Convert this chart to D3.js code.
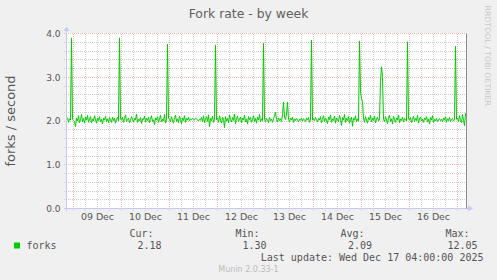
<!DOCTYPE html>
<html>
<head>
<meta charset="utf-8">
<script src="https://cdn.jsdelivr.net/npm/d3@7"></script>
<style>
  html, body { margin: 0; padding: 0; background: #f0f0f0; }
  svg { display: block; }
</style>
</head>
<body>
<script>
// Munin "Fork rate - by week" graph
const W = 497, H = 280;
const P = { left: 67, right: 466, top: 33.5, bottom: 208.5 };

// half-hourly samples, one array per day (first and last day are partial)
const dec08 = [2.08, 1.97, 2.05, 2.02, 3.90, 2.04];
const dec09 = [2.01, 1.99, 1.87, 2.07, 2.00, 2.12, 1.96, 2.03, 2.15, 1.98,
  2.06, 1.95, 2.09, 2.02, 2.13, 1.97, 2.04, 2.10, 1.96, 2.05,
  2.00, 2.12, 2.03, 1.95, 2.07, 2.01, 2.10, 1.98, 2.04, 1.93,
  2.06, 2.02, 2.11, 1.99, 2.05, 1.96, 2.08, 2.03, 1.97, 2.09,
  2.01, 2.06, 1.95, 2.04, 2.08, 2.00, 3.90, 2.05];
const dec10 = [2.02, 2.09, 1.97, 2.05, 2.14, 1.99, 2.03, 2.07, 1.96, 2.01,
  2.10, 2.04, 1.98, 2.06, 2.02, 2.16, 1.97, 2.04, 2.00, 2.08,
  1.94, 2.05, 2.03, 2.11, 1.98, 2.06, 2.01, 2.09, 1.96, 2.04,
  2.12, 1.99, 2.03, 1.92, 2.07, 2.02, 2.10, 1.97, 2.05, 2.13,
  1.98, 2.04, 2.00, 2.15, 1.95, 2.03, 3.76, 2.06];
const dec11 = [2.04, 1.98, 2.10, 2.02, 1.95, 2.08, 2.13, 1.99, 2.05, 1.96,
  2.11, 2.03, 1.94, 2.07, 2.01, 2.12, 1.97, 2.06, 2.02, 2.09,
  2.00, 2.05, 2.03, 2.06, 2.04, 2.02, 2.07, 2.05, 2.03, 2.00,
  2.04, 2.02, 2.08, 1.98, 2.12, 1.96, 2.05, 2.10, 1.99, 2.14,
  1.87, 2.06, 2.01, 2.11, 1.97, 2.04, 3.74, 2.03];
const dec12 = [2.07, 1.97, 2.12, 2.02, 1.95, 2.09, 2.04, 1.85, 2.10, 2.00,
  2.06, 1.96, 2.14, 2.03, 1.98, 2.08, 2.01, 2.16, 1.94, 2.05,
  2.11, 1.99, 2.04, 2.09, 1.96, 2.07, 2.02, 2.13, 1.98, 2.05,
  1.93, 2.10, 2.03, 2.08, 1.97, 2.04, 2.12, 1.99, 2.06, 1.95,
  2.09, 2.02, 2.15, 1.98, 2.05, 2.01, 3.78, 2.04];
const dec13 = [1.99, 2.06, 2.02, 1.96, 2.08, 2.01, 2.04, 1.97, 2.05, 2.12,
  2.20, 2.03, 1.98, 2.07, 2.01, 2.05, 1.99, 2.14, 2.43, 2.08,
  2.03, 2.16, 2.43, 2.04, 1.99, 2.07, 2.02, 2.09, 1.97, 2.05,
  2.01, 2.06, 2.03, 1.98, 2.04, 2.02, 2.07, 2.00, 2.05, 2.03,
  1.99, 2.06, 2.02, 2.08, 1.97, 2.04, 3.85, 2.02];
const dec14 = [2.05, 2.01, 2.08, 2.03, 1.98, 2.06, 2.02, 2.10, 1.96, 2.04,
  2.12, 1.99, 2.07, 2.02, 1.94, 2.09, 2.03, 2.14, 1.97, 2.05,
  2.01, 2.11, 1.95, 2.07, 2.03, 1.99, 2.13, 2.04, 1.90, 2.08,
  2.02, 2.15, 1.97, 2.06, 2.01, 2.10, 1.95, 2.04, 2.09, 1.88,
  2.07, 2.02, 2.12, 1.98, 2.05, 2.00, 3.83, 2.67];
const dec15 = [2.52, 2.45, 2.05, 1.97, 2.10, 2.02, 1.95, 2.08, 2.03, 2.13,
  1.98, 2.06, 2.01, 2.11, 1.96, 2.04, 2.09, 2.00, 2.05, 2.90,
  3.24, 3.00, 2.04, 1.98, 2.10, 2.02, 1.94, 2.08, 2.13, 1.99,
  2.05, 1.93, 2.11, 2.03, 1.97, 2.07, 2.02, 2.14, 1.96, 2.05,
  2.01, 2.09, 1.98, 2.06, 2.03, 2.00, 3.81, 2.05];
const dec16 = [2.02, 2.08, 1.96, 2.04, 2.11, 1.99, 2.06, 2.01, 2.13, 1.95,
  2.05, 2.09, 2.00, 2.04, 1.97, 2.07, 2.03, 2.10, 1.98, 2.05,
  1.93, 2.08, 2.02, 2.12, 1.97, 2.04, 2.00, 2.06, 1.99, 2.03,
  2.05, 2.01, 2.04, 1.98, 2.07, 2.02, 2.10, 1.97, 2.05, 2.01,
  2.08, 1.99, 2.04, 2.06, 2.00, 2.03, 3.71, 2.04];
const dec17 = [2.06, 1.99, 2.12, 2.03, 1.96, 2.15, 2.02, 1.89, 2.18];

const dayStarts = [
  Date.UTC(2025, 11, 8, 21), Date.UTC(2025, 11, 9), Date.UTC(2025, 11, 10),
  Date.UTC(2025, 11, 11), Date.UTC(2025, 11, 12), Date.UTC(2025, 11, 13),
  Date.UTC(2025, 11, 14), Date.UTC(2025, 11, 15), Date.UTC(2025, 11, 16),
  Date.UTC(2025, 11, 17)
];
const dayValues = [dec08, dec09, dec10, dec11, dec12, dec13, dec14, dec15, dec16, dec17];

const yMajor = [0, 1, 2, 3, 4];
const statLabels = ['Cur:', 'Min:', 'Avg:', 'Max:'];
const statValues = ['2.18', '1.30', '2.09', '12.05'];
const statLabelEnd = [153.5, 259.5, 364.5, 469.5];
const statValueEnd = [161.5, 266.5, 372, 477.5];

const HALF_HOUR = 30 * 60 * 1000;
const points = dayValues.flatMap((vals, k) =>
  vals.map((v, j) => ({ t: new Date(dayStarts[k] + j * HALF_HOUR), v })));

const svg = d3.select('body').append('svg').attr('width', W).attr('height', H);
svg.append('rect').attr('width', W).attr('height', H).attr('fill', '#f0f0f0');

const x = d3.scaleUtc()
  .domain([new Date(Date.UTC(2025, 11, 8, 20, 45)), new Date(Date.UTC(2025, 11, 17, 4, 15))])
  .range([P.left, P.right]);
const y = d3.scaleLinear().domain([0, 4]).range([P.bottom, P.top]);
const crisp = v => Math.round(v - 0.5) + 0.5;

// plot canvas
svg.append('rect')
  .attr('x', P.left).attr('y', P.top - 0.5)
  .attr('width', P.right - P.left).attr('height', P.bottom - P.top + 0.5)
  .attr('fill', '#ffffff');

const grid = svg.append('g').attr('shape-rendering', 'crispEdges');
const minorY = d3.range(1, 20).map(k => k / 5).filter(v => !Number.isInteger(v));
const hours = d3.utcHour.every(6).range(x.domain()[0], x.domain()[1]);
const minorX = hours.filter(d => d.getUTCHours() !== 0);
const majorX = d3.utcDay.range(x.domain()[0], x.domain()[1]);
const majorCol = '#f0b6b6', minorCol = '#cccccc';

grid.selectAll('line.minx').data(minorX).join('line')
  .attr('x1', d => crisp(x(d))).attr('x2', d => crisp(x(d)))
  .attr('y1', P.top).attr('y2', P.bottom + 2)
  .attr('stroke', minorCol).attr('stroke-dasharray', '1,1');
grid.selectAll('line.miny').data(minorY).join('line')
  .attr('x1', P.left - 3).attr('x2', P.right)
  .attr('y1', d => crisp(y(d))).attr('y2', d => crisp(y(d)))
  .attr('stroke', minorCol).attr('stroke-dasharray', '1,1');
grid.selectAll('line.majx').data(majorX).join('line')
  .attr('x1', d => crisp(x(d))).attr('x2', d => crisp(x(d)))
  .attr('y1', P.top).attr('y2', P.bottom + 3)
  .attr('stroke', majorCol).attr('stroke-dasharray', '1,1');
grid.selectAll('line.majy').data(yMajor.filter(v => v > 0)).join('line')
  .attr('x1', P.left - 3).attr('x2', P.right)
  .attr('y1', d => crisp(y(d))).attr('y2', d => crisp(y(d)))
  .attr('stroke', majorCol).attr('stroke-dasharray', '1,1');

// axes with arrows
const axisCol = '#c4c8f2';
svg.append('line').attr('x1', P.left - 0.5).attr('x2', P.left - 0.5)
  .attr('y1', P.bottom + 3).attr('y2', 29).attr('stroke', axisCol);
svg.append('path').attr('d', `M${P.left - 3.5},31 L${P.left + 2.5},31 L${P.left - 0.5},26.5 Z`)
  .attr('fill', axisCol);
svg.append('line').attr('x1', P.left - 3).attr('x2', P.right + 4)
  .attr('y1', P.bottom).attr('y2', P.bottom).attr('stroke', axisCol);
svg.append('path').attr('d', `M${P.right + 2},${P.bottom - 3} L${P.right + 2},${P.bottom + 3} L${P.right + 7},${P.bottom} Z`)
  .attr('fill', axisCol);

// right edge
svg.append('line').attr('x1', P.right + 0.5).attr('x2', P.right + 0.5)
  .attr('y1', P.top).attr('y2', P.bottom).attr('stroke', '#8c8c8c');

// series
svg.append('path').datum(points)
  .attr('fill', 'none').attr('stroke', '#00cc00').attr('stroke-width', 1)
  .attr('d', d3.line().x(d => x(d.t)).y(d => y(d.v)));

// tick labels
const txt = '#555555';
svg.selectAll('text.yt').data(yMajor).join('text')
  .attr('x', 60.5).attr('y', d => y(d) + 3.3)
  .attr('text-anchor', 'end')
  .style('font-family', 'DejaVu Sans').style('font-size', '9px').attr('fill', txt)
  .text(d3.format('.1f'));
const noons = majorX.map(d => d3.utcHour.offset(d, 12)).filter(d => d < x.domain()[1]);
svg.selectAll('text.xt').data(noons).join('text')
  .attr('x', d => x(d)).attr('y', 219.5)
  .attr('text-anchor', 'middle')
  .style('font-family', 'DejaVu Sans').style('font-size', '9.4px').attr('fill', txt)
  .text(d3.utcFormat('%d %b'));

// titles
svg.append('text').attr('x', 248.5).attr('y', 17.8).attr('text-anchor', 'middle')
  .style('font-family', 'DejaVu Sans').style('font-size', '12.4px').attr('fill', '#606060')
  .text('Fork rate - by week');
svg.append('text').attr('transform', `translate(15,${(P.top + P.bottom) / 2}) rotate(-90)`)
  .attr('text-anchor', 'middle')
  .style('font-family', 'DejaVu Sans').style('font-size', '13px').attr('fill', txt)
  .text('forks / second');
svg.append('text').attr('transform', 'translate(485,5.5) rotate(90)')
  .style('font-family', 'DejaVu Sans').style('font-size', '7.8px').attr('fill', '#c8c8c8')
  .text('RRDTOOL / TOBI OETIKER');

// legend
const mono = 'DejaVu Sans Mono';
svg.append('rect').attr('x', 14).attr('y', 242.5).attr('width', 6).attr('height', 6)
  .attr('fill', '#00cc00');
svg.append('text').attr('x', 26.5).attr('y', 249.3)
  .style('font-family', mono).style('font-size', '10px').attr('fill', txt).text('forks');
svg.selectAll('text.sl').data(statLabels).join('text')
  .attr('x', (d, i) => statLabelEnd[i]).attr('y', 237)
  .attr('text-anchor', 'end')
  .style('font-family', mono).style('font-size', '10px').attr('fill', txt).text(d => d);
svg.selectAll('text.sv').data(statValues).join('text')
  .attr('x', (d, i) => statValueEnd[i]).attr('y', 249.3)
  .attr('text-anchor', 'end')
  .style('font-family', mono).style('font-size', '10px').attr('fill', txt).text(d => d);
svg.append('text').attr('x', 483.5).attr('y', 261.3).attr('text-anchor', 'end')
  .style('font-family', mono).style('font-size', '10px').attr('fill', txt)
  .text('Last update: Wed Dec 17 04:00:00 2025');
svg.append('text').attr('x', 248.5).attr('y', 272).attr('text-anchor', 'middle')
  .style('font-family', 'DejaVu Sans').style('font-size', '8px').attr('fill', '#bbbbbb')
  .text('Munin 2.0.33-1');
</script>
</body>
</html>
